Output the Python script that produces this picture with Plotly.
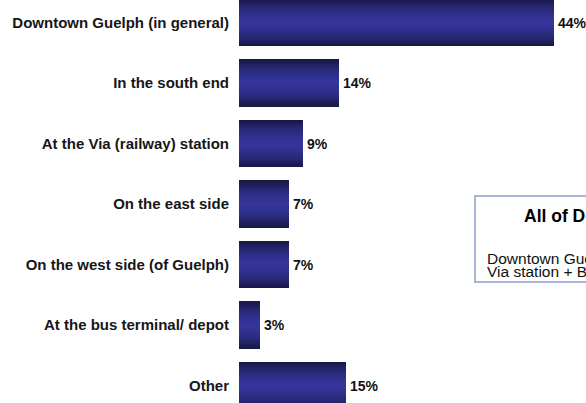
import plotly.graph_objects as go

# Survey responses: where people would locate the facility
categories = [
    "Downtown Guelph (in general)",
    "In the south end",
    "At the Via (railway) station",
    "On the east side",
    "On the west side (of Guelph)",
    "At the bus terminal/ depot",
    "Other",
]
values = [44, 14, 9, 7, 7, 3, 15]
value_labels = [f"{v}%" for v in values]

box_title = "All of Downtown"
box_lines = ["Downtown Guelph +", "Via station + Bus terminal"]

FONT = "Liberation Sans, Arial, sans-serif"
EDGE = (24, 24, 70)     # dark rim of each bar
CORE = (52, 52, 154)    # bright middle of each bar
BAR_W = 0.78
N_LAYERS = 22


def mix(a, b, f):
    return "rgb({},{},{})".format(*[round(x + (y - x) * f) for x, y in zip(a, b)])


fig = go.Figure()

# Stack progressively thinner bars so each bar shades from dark edges to a bright core
for k in range(N_LAYERS):
    p = 1 - k / N_LAYERS          # half-thickness as a fraction of the full bar
    shade = p ** 1.8
    fig.add_trace(go.Bar(
        x=values,
        y=categories,
        orientation="h",
        width=BAR_W * p,
        marker=dict(color=mix(CORE, EDGE, shade), line=dict(width=0)),
        hoverinfo="skip" if k else "x+y",
        showlegend=False,
    ))

# Percentage labels just past the end of each bar
for cat, val, lab in zip(categories, values, value_labels):
    fig.add_annotation(
        x=val, y=cat, xref="x", yref="y",
        text=lab, showarrow=False,
        xanchor="left", yanchor="middle", xshift=2,
        font=dict(family=FONT, size=14, color="#111111", weight="bold"),
    )

px_w, px_h = 586, 403
left = 239

fig.update_layout(
    width=px_w,
    height=px_h,
    margin=dict(l=left, r=0, t=0, b=0),
    barmode="overlay",
    bargap=0,
    plot_bgcolor="white",
    paper_bgcolor="white",
    font=dict(family=FONT),
    xaxis=dict(
        range=[0, 48.46],
        showgrid=False,
        zeroline=False,
        showline=False,
        showticklabels=False,
        ticks="",
    ),
    yaxis=dict(
        type="category",
        categoryorder="array",
        categoryarray=categories,
        range=[6.289, -0.372],
        showgrid=False,
        zeroline=False,
        showline=False,
        ticks="",
        ticklabelstandoff=9,
        tickfont=dict(family=FONT, size=15, color="#161616", weight="bold"),
    ),
)


# Summary box on the right
def xp(px):
    return (px - left) / (px_w - left)


def yp(py):
    return 1 - py / px_h


fig.add_shape(
    type="rect", xref="paper", yref="paper",
    x0=xp(475), x1=xp(700), y0=yp(282), y1=yp(196),
    line=dict(color="#a9b4d8", width=2),
    fillcolor="white",
    layer="above",
)
fig.add_annotation(
    xref="paper", yref="paper", x=xp(522), y=yp(216),
    xanchor="left", yanchor="middle", showarrow=False,
    text=box_title,
    font=dict(family=FONT, size=17.5, color="#000000", weight="bold"),
)
for line, ypix in zip(box_lines, [258, 271.5]):
    fig.add_annotation(
        xref="paper", yref="paper", x=xp(485), y=yp(ypix),
        xanchor="left", yanchor="middle", showarrow=False, align="left",
        text=line,
        font=dict(family=FONT, size=15.5, color="#111111"),
    )

fig.write_html("out.html")
